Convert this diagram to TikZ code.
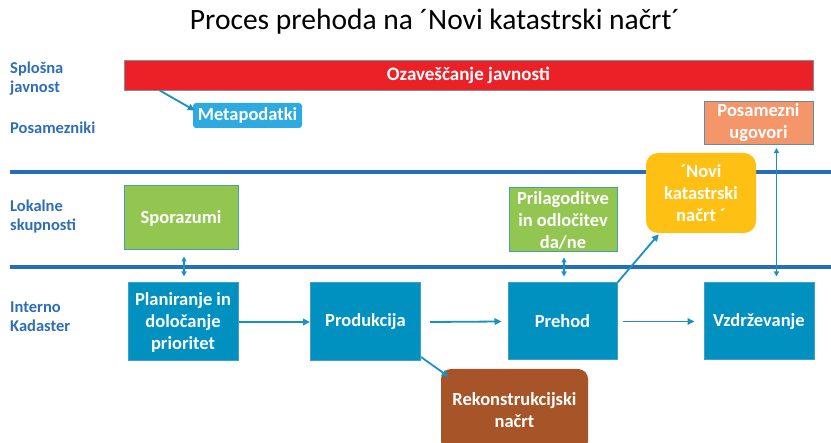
\documentclass[tikz,border=0pt]{standalone}
\usepackage{fontspec}
\setmainfont{Carlito}
\usetikzlibrary{arrows.meta,calc}
\definecolor{kblue}{RGB}{0,145,192}
\definecolor{kblueedge}{RGB}{60,160,200}
\definecolor{kgreen}{RGB}{146,198,80}
\definecolor{kteal}{RGB}{70,160,170}
\definecolor{kred}{RGB}{236,32,39}
\definecolor{klight}{RGB}{45,170,225}
\definecolor{ksalmon}{RGB}{244,150,105}
\definecolor{ksalmonedge}{RGB}{94,143,166}
\definecolor{kyellow}{RGB}{255,192,20}
\definecolor{kbrown}{RGB}{166,84,40}
\definecolor{klane}{RGB}{38,110,185}
\definecolor{karrow}{RGB}{25,145,195}
\definecolor{klabel}{RGB}{46,110,185}
\begin{document}
\begin{tikzpicture}[x=1pt,y=-1pt,
  box/.style={rectangle, inner sep=0pt, align=center, text=white, font=\bfseries\fontsize{18.5}{22}\selectfont},
  flowbox/.style={box, fill=kblue, draw=kblueedge, line width=1pt, minimum width=110pt, minimum height=78pt},
  greenbox/.style={box, fill=kgreen, draw=kteal, line width=1pt},
  lane/.style={line width=4.5pt, draw=klane},
  arr/.style={draw=karrow, line width=1.8pt, -{Triangle[length=7pt,width=6.5pt]}},
  darr/.style={draw=karrow, line width=1.3pt, {Triangle[length=5pt,width=5pt]}-{Triangle[length=5pt,width=5pt]}},
  lab/.style={anchor=west, align=left, text=klabel, inner sep=0pt, font=\bfseries\fontsize{16.5}{19}\selectfont}]
\useasboundingbox (0,0) rectangle (831,443);
\clip (0,0) rectangle (831,443);
\fill[white] (0,0) rectangle (831,443);

% title
\node[font=\fontsize{29.5}{32}\selectfont, inner sep=0pt] (title) at (435,22) {Proces prehoda na ´Novi katastrski načrt´};

% lanes
\draw[lane] (10,172) -- (831,172);
\draw[lane] (10,267) -- (831,267);

% lane labels
\node[lab] (l1) at (10,79) {Splošna\\javnost};
\node[lab] (l2) at (10,128) {Posamezniki};
\node[lab] (l3) at (10,216.5) {Lokalne\\skupnosti};
\node[lab] (l4) at (10,316.5) {Interno\\Kadaster};

% boxes
\node[box, fill=kred, draw=black!45, line width=0.8pt, minimum width=689pt, minimum height=30pt, font=\bfseries\fontsize{19}{22}\selectfont] (ozav) at (468.5,75) {Ozaveščanje javnosti};
\node[box, fill=klight, rounded corners=3pt, minimum width=109pt, minimum height=25pt] (meta) at (247.5,115.5) {Metapodatki};
\node[box, fill=ksalmon, draw=ksalmonedge, line width=1pt, minimum width=109pt, minimum height=43pt] (posam) at (758.5,123) {Posamezni\\ugovori};
\node[greenbox, minimum width=114pt, minimum height=64pt] (spor) at (181,218) {Sporazumi};
\node[greenbox, minimum width=108pt, minimum height=64pt] (pril) at (563,220) {Prilagoditve\\in odločitev\\da/ne};
\node[flowbox] (plan) at (183,322) {Planiranje in\\določanje\\prioritet};
\node[flowbox] (prod) at (365.5,322) {Produkcija};
\node[flowbox, minimum width=109pt, minimum height=77pt] (preh) at (562.5,321.5) {Prehod};
\node[flowbox, minimum height=77pt] (vzdr) at (759,321.5) {Vzdrževanje};
\node[box, fill=kyellow, rounded corners=12pt, minimum width=110pt, minimum height=80pt] (novi) at (701,193) {\raisebox{2.5pt}{\parbox{100pt}{\centering ´Novi\\katastrski\\načrt ´}}};
\node[box, fill=kbrown, rounded corners=10pt, minimum width=147pt, minimum height=82pt] (rek) at (514.5,410) {Rekonstrukcijski\\načrt};

% connectors
\draw[arr] ($(ozav.south west)+(36,0)$) -- ($(meta.west)+(2,-5)$);
\draw[arr] (plan.east) -- (prod.west);
\draw[arr] ($(prod.east)+(9,0)$) -- ($(preh.west)+(-6,0)$);
\draw[arr] ($(preh.east)+(5,0)$) -- ($(vzdr.west)+(-9,0)$);
\draw[arr] ($(prod.east)+(0,35)$) -- ($(rek.north west)+(8,8)$);
\draw[arr] (preh.north east) -- ($(novi.south west)+(13,1)$);
\draw[darr] ($(posam.south west)+(73,3)$) -- ($(vzdr.north west)+(73,-6)$);
\draw[darr] ($(spor.south)+(3,6)$) -- ($(plan.north)+(1,-6)$);
\draw[darr] ($(pril.south)+(1,5)$) -- ($(preh.north)+(1.5,-6)$);
\end{tikzpicture}
\end{document}
